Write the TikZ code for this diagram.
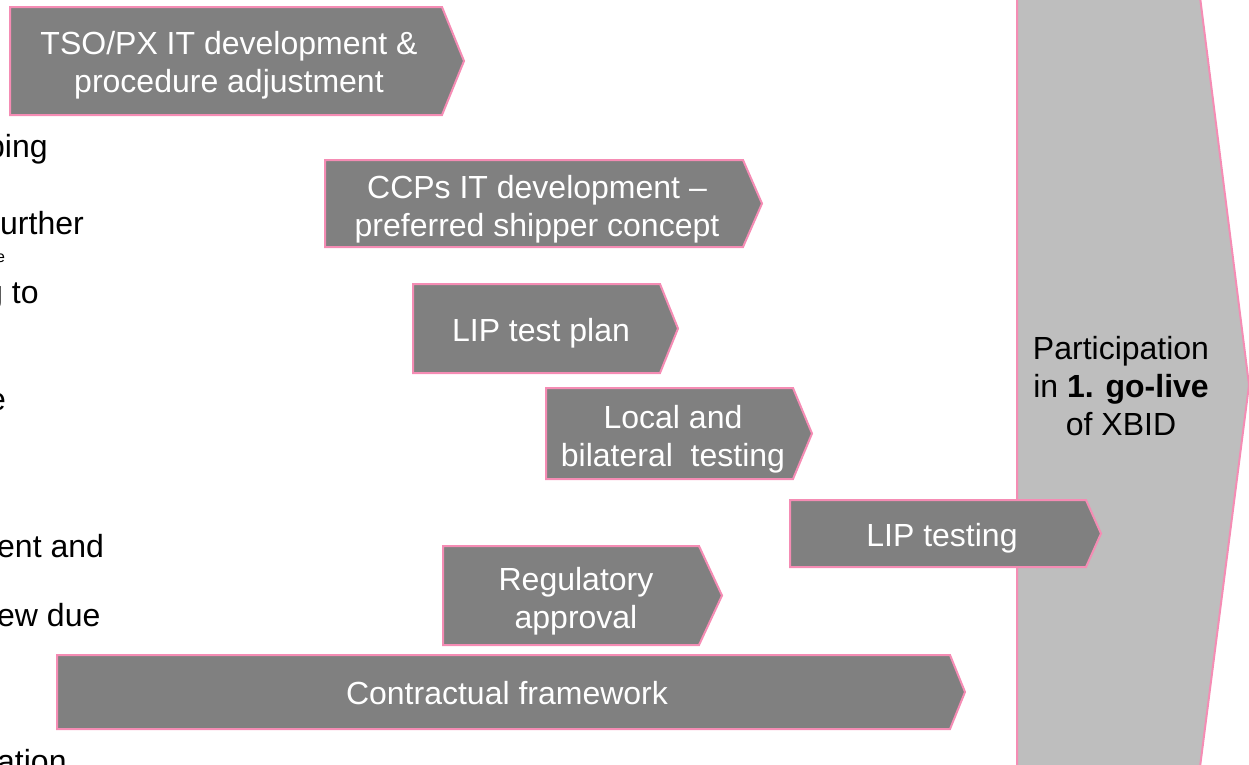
\documentclass[tikz,border=0pt]{standalone}
\usepackage{fontspec}
\setmainfont{Liberation Sans}
\definecolor{dk}{RGB}{128,128,128}
\definecolor{lt}{RGB}{190,190,190}
\definecolor{pk}{RGB}{245,140,180}
\newcommand\chv[5]{\draw[chev] (#1,#2) -- (#3,#2) -- (#4,{(#2+#5)/2}) -- (#3,#5) -- (#1,#5) -- cycle;}
\begin{document}
\begin{tikzpicture}[x=1pt,y=-1pt,
  chev/.style={fill=dk,draw=pk,line width=2pt,line join=miter},
  big/.style={fill=lt,draw=pk,line width=2pt,line join=miter},
  wt/.style={text=white,font=\fontsize{32}{38}\selectfont,align=center,inner sep=0pt},
  bk/.style={text=black,font=\fontsize{32}{38}\selectfont,align=center,inner sep=0pt},
  lf/.style={text=black,font=\fontsize{32}{38}\selectfont,inner sep=0pt,anchor=base west}]
\useasboundingbox (0,0) rectangle (1249,764);
\begin{scope}
\clip (0,0) rectangle (1249,764);
% left column fragments (cut off at the picture's edge, as in the reference)
\node[lf] (l1) at (-13,157) {ping};
\node[lf] (l2) at (0,234) {urther};
\node[lf,font=\fontsize{16}{19}\selectfont] (l3) at (-4,262) {e};
\node[lf] (l4) at (-15,303) {g to};
\node[lf] (l5) at (-12,410) {e};
\node[lf] (l6) at (-3,557) {ent and};
\node[lf] (l7) at (-3,626) {ew due};
\node[lf] (l8) at (-3,772) {ation};
% big arrow
\draw[big] (1017,-3) -- (1200,-3) -- (1249,385) -- (1200,767) -- (1017,767) -- cycle;
\node[bk] (golive) at (1121,386) {Participation\\in \textbf{1. go-live}\\of XBID};
% chevrons
\chv{10}{7}{442}{464}{115}
\node[wt] (tso) at (229,65) {TSO/PX IT development \&\\procedure adjustment};
\chv{325}{160}{743}{762}{247}
\node[wt] (ccp) at (537,209) {CCPs IT development --\\preferred shipper concept};
\chv{413}{284}{660}{678}{373}
\node[wt] (ltp) at (541,333) {LIP test plan};
\chv{546}{388}{793}{812}{479}
\node[wt] (loc) at (673,439) {Local and\\bilateral\ \ testing};
\chv{790}{500}{1086}{1101}{567}
\node[wt] (lipt) at (942,538) {LIP testing};
\chv{443}{546}{699}{722}{645}
\node[wt] (reg) at (576,601) {Regulatory\\approval};
\chv{57}{655}{950}{965}{729}
\node[wt] (con) at (507,693) {Contractual framework};
\end{scope}
\end{tikzpicture}
\end{document}
